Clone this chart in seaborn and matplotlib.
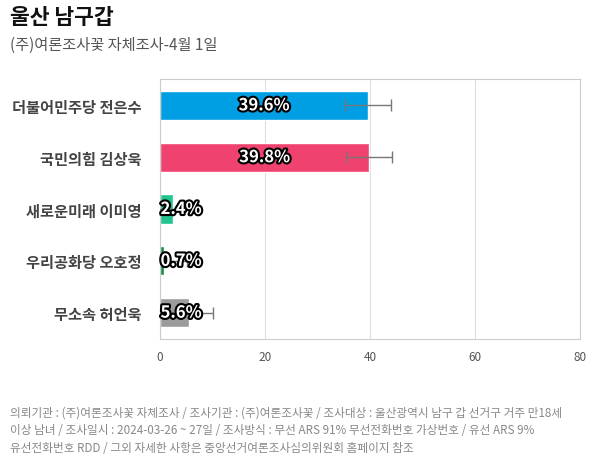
import matplotlib
matplotlib.use("Agg")
import matplotlib.pyplot as plt
import matplotlib.patheffects as pe
import seaborn as sns
import pandas as pd

# data
candidates = ['더불어민주당 전은수', '국민의힘 김상욱', '새로운미래 이미영', '우리공화당 오호정', '무소속 허언욱']
support = [39.6, 39.8, 2.4, 0.7, 5.6]
margin = [4.4, 4.4, 4.4, 4.4, 4.4]
colors = ['#009ee2', '#ef426f', '#21c38f', '#168a4c', '#9b9b9b']
xticks = [0, 20, 40, 60, 80]

title = '울산 남구갑'
subtitle = '(주)여론조사꽃 자체조사-4월 1일'
footnote = ('의뢰기관 : (주)여론조사꽃 자체조사 / 조사기관 : (주)여론조사꽃 / 조사대상 : 울산광역시 남구 갑 선거구 거주 만18세\n'
            '이상 남녀 / 조사일시 : 2024-03-26 ~ 27일 / 조사방식 : 무선 ARS 91% 무선전화번호 가상번호 / 유선 ARS 9%\n'
            '유선전화번호 RDD / 그외 자세한 사항은 중앙선거여론조사심의위원회 홈페이지 참조')

sns.set_style('white')
plt.rcParams['font.family'] = ['Noto Sans CJK KR', 'DejaVu Sans']

df = pd.DataFrame({'name': candidates, 'value': support})

fig = plt.figure(figsize=(6, 4.6), dpi=100)
ax = fig.add_axes([0.2667, 0.2609, 0.70, 0.5652])

sns.barplot(data=df, x='value', y='name', hue='name', palette=colors,
            saturation=1, legend=False, width=0.56, ax=ax, zorder=2)

ax.errorbar(support, range(len(support)), xerr=margin, fmt='none',
            ecolor='#777777', elinewidth=1, capsize=4, zorder=3)

stroke = [pe.withStroke(linewidth=3, foreground='black')]
for i, v in enumerate(support):
    if v > 10:
        ax.text(v / 2, i, f'{v}%', ha='center', va='center', color='white',
                fontsize=12, fontweight='bold', path_effects=stroke, zorder=4)
    else:
        ax.text(0.1, i, f'{v}%', ha='left', va='center', color='white',
                fontsize=12, fontweight='bold', path_effects=stroke, zorder=4)

ax.set_xlim(0, 80)
ax.set_xticks(xticks)
ax.set_xlabel('')
ax.set_ylabel('')
ax.grid(axis='x', color='#dddddd', linewidth=0.8, zorder=0)
ax.set_axisbelow(True)
for s in ax.spines.values():
    s.set_color('#cccccc')
    s.set_linewidth(0.8)
ax.tick_params(axis='x', length=0, labelsize=8.5, labelcolor='#555555', pad=8)
ax.tick_params(axis='y', length=0, labelsize=11, labelcolor='#444444', pad=13)
for lbl in ax.get_yticklabels():
    lbl.set_fontweight('bold')

fig.text(0.017, 0.962, title, fontsize=15.5, fontweight='bold', color='#111111', va='center')
fig.text(0.017, 0.902, subtitle, fontsize=11, color='#555555', va='center')
fig.text(0.017, 0.010, footnote, fontsize=8.4, color='#888888', va='bottom', linespacing=1.5)

fig.savefig('out.png', dpi=100)
